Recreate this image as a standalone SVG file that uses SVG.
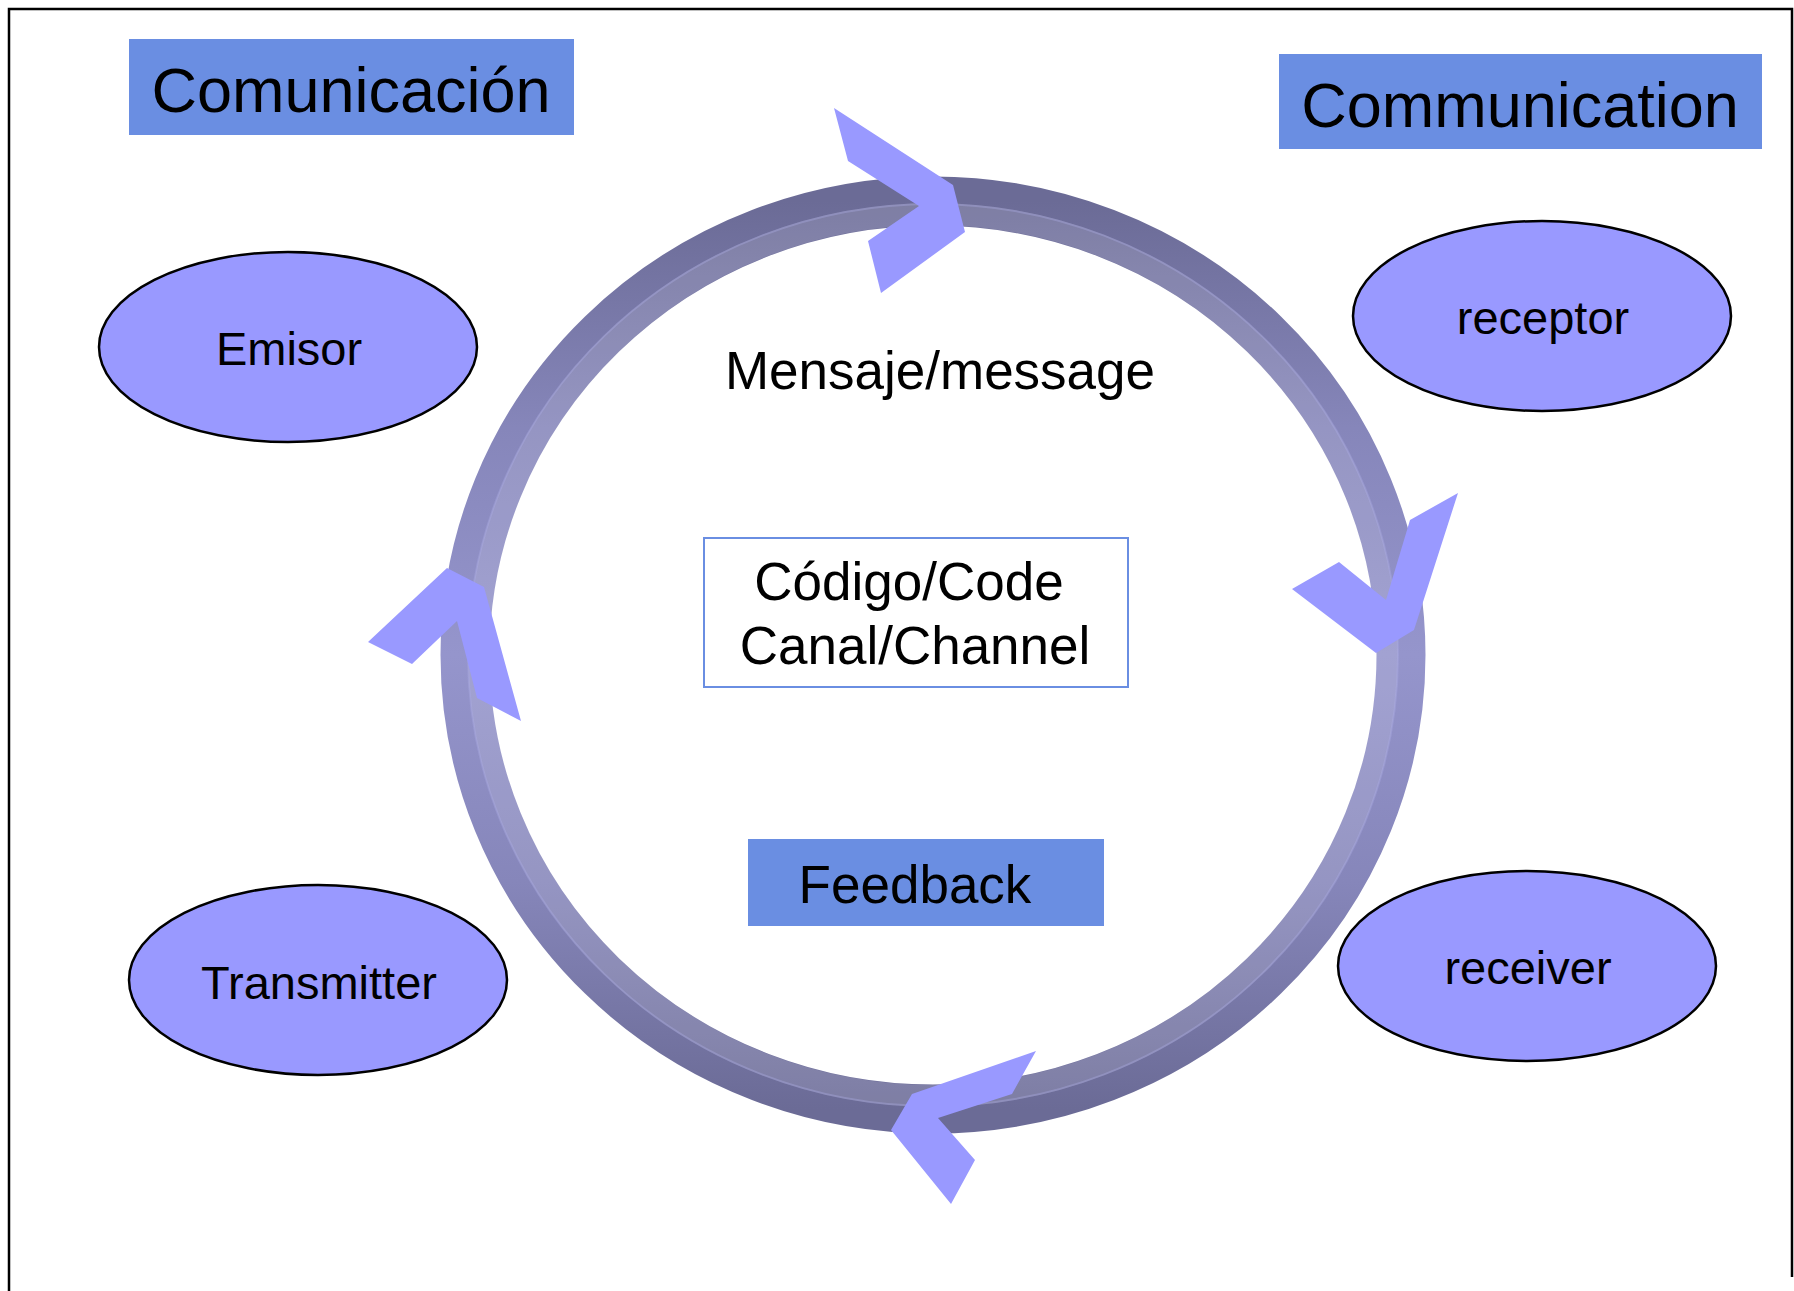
<svg xmlns="http://www.w3.org/2000/svg" width="1794" height="1291" viewBox="0 0 1794 1291">
<defs>
<linearGradient id="ringGrad" x1="0" y1="0" x2="0" y2="1">
<stop offset="0" stop-color="#6b6b96"/>
<stop offset="0.25" stop-color="#8686ba"/>
<stop offset="0.5" stop-color="#9595cc"/>
<stop offset="0.75" stop-color="#8686ba"/>
<stop offset="1" stop-color="#6b6b96"/>
</linearGradient>
<style>
.txt{font-family:"Liberation Sans",Arial,sans-serif;fill:#000;text-anchor:middle}
.node{fill:#9999ff;stroke:#000;stroke-width:2.5}
.title{fill:#6a8ee2}
.chev{fill:#9999ff}
</style>
</defs>
<rect width="1794" height="1291" fill="#fff"/>
<path d="M9,1291 V9 H1792 V1277" fill="none" stroke="#000" stroke-width="2.5"/>

<g id="ring">
<ellipse cx="933" cy="655" rx="468" ry="454" fill="none" stroke="url(#ringGrad)" stroke-width="49"/>
<ellipse cx="933" cy="655" rx="454" ry="441" fill="none" stroke="#ffffff" stroke-opacity="0.13" stroke-width="22"/>
<ellipse cx="933" cy="655" rx="465" ry="451" fill="none" stroke="#b0b0e8" stroke-opacity="0.35" stroke-width="2"/>
</g>

<g id="connectors">
<polygon class="chev" points="834,108 953,185 965,232 881,293 868,241 919,206 848,161"/>
<polygon class="chev" points="1458,493 1414,630 1376,653 1292,589 1339,562 1386,600 1410,520"/>
<polygon class="chev" points="1036,1051 1012,1094 938,1118 975,1160 951,1204 891,1130 912,1094"/>
<polygon class="chev" points="447,568 484,587 521,721 477,698 457,621 412,664 368,642"/>
</g>

<g id="title-es">
<rect class="title" x="129" y="39" width="445" height="96"/>
<text class="txt" x="351" y="112" font-size="63">Comunicación</text>
</g>
<g id="title-en">
<rect class="title" x="1279" y="54" width="483" height="95"/>
<text class="txt" x="1520" y="127" font-size="63">Communication</text>
</g>

<g id="emisor">
<ellipse class="node" cx="288" cy="347" rx="189" ry="95"/>
<text class="txt" x="289" y="365" font-size="47">Emisor</text>
</g>
<g id="receptor">
<ellipse class="node" cx="1542" cy="316" rx="189" ry="95"/>
<text class="txt" x="1543" y="334" font-size="47">receptor</text>
</g>
<g id="transmitter">
<ellipse class="node" cx="318" cy="980" rx="189" ry="95"/>
<text class="txt" x="319" y="999" font-size="47">Transmitter</text>
</g>
<g id="receiver">
<ellipse class="node" cx="1527" cy="966" rx="189" ry="95"/>
<text class="txt" x="1528" y="984" font-size="47">receiver</text>
</g>

<g id="mensaje">
<text class="txt" x="940" y="389" font-size="53">Mensaje/message</text>
</g>

<g id="codigo">
<rect x="704" y="538" width="424" height="149" fill="#fff" stroke="#6a8ee2" stroke-width="2"/>
<text class="txt" x="909" y="600" font-size="53">Código/Code</text>
<text class="txt" x="915" y="664" font-size="53">Canal/Channel</text>
</g>

<g id="feedback">
<rect class="title" x="748" y="839" width="356" height="87"/>
<text class="txt" x="915" y="903" font-size="53">Feedback</text>
</g>
</svg>
